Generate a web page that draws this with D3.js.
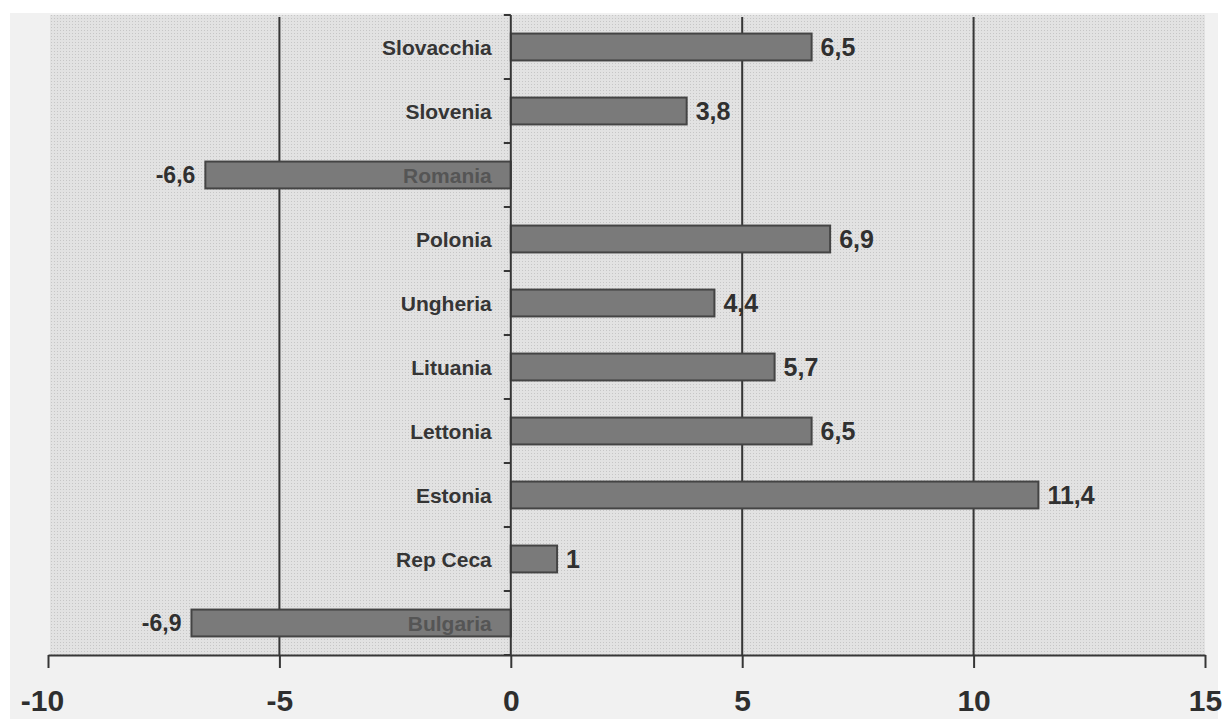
<!DOCTYPE html>
<html>
<head>
<meta charset="utf-8">
<script src="https://cdn.jsdelivr.net/npm/d3@7"></script>
<style>
  body { margin: 0; background: #fff; }
  text { font-family: "Liberation Sans", Arial, sans-serif; font-weight: bold; }
</style>
</head>
<body>
<div id="chart"></div>
<script>
// data (top to bottom)
var countries = ["Slovacchia", "Slovenia", "Romania", "Polonia", "Ungheria",
                 "Lituania", "Lettonia", "Estonia", "Rep Ceca", "Bulgaria"];
var values = [6.5, 3.8, -6.6, 6.9, 4.4, 5.7, 6.5, 11.4, 1, -6.9];
var xTicks = [-10, -5, 0, 5, 10, 15];

var svgWidth = 1228;
var svgHeight = 719;

var margin = { top: 15, right: 23, bottom: 64, left: 48 };
var width = svgWidth - margin.left - margin.right;
var height = svgHeight - margin.top - margin.bottom;

var svg = d3.select("#chart")
  .append("svg")
  .attr("width", svgWidth)
  .attr("height", svgHeight);

// dotted screen texture of the scanned plot area
var defs = svg.append("defs");
var pat = defs.append("pattern")
  .attr("id", "dots")
  .attr("width", 3)
  .attr("height", 3)
  .attr("patternUnits", "userSpaceOnUse");
pat.append("rect").attr("width", 3).attr("height", 3).attr("fill", "#e2e2e2");
pat.append("rect").attr("width", 1).attr("height", 1).attr("fill", "#c6c6c6");

// outer light frame
svg.append("rect")
  .attr("x", 10).attr("y", 13)
  .attr("width", 1208).attr("height", svgHeight - 13)
  .attr("fill", "#f1f1f1");

var chartGroup = svg.append("g")
  .attr("transform", `translate(${margin.left}, ${margin.top})`);

var data = countries.map(function(c, i) {
  return { country: c, value: values[i] };
});

// scales
var xLinearScale = d3.scaleLinear()
  .domain([-10, 15])
  .range([0, width]);

var yBandScale = d3.scaleBand()
  .domain(countries)
  .range([0, height])
  .paddingInner(0.58)
  .paddingOuter(0.29);

// plot background
chartGroup.append("rect")
  .attr("x", 2)
  .attr("y", 0)
  .attr("width", width - 2)
  .attr("height", height)
  .attr("fill", "url(#dots)");

// vertical gridlines
chartGroup.selectAll("line.grid")
  .data(xTicks.filter(d => d !== 0 && d !== -10 && d !== 15))
  .enter()
  .append("line")
  .attr("class", "grid")
  .attr("x1", d => xLinearScale(d))
  .attr("x2", d => xLinearScale(d))
  .attr("y1", 2)
  .attr("y2", height)
  .attr("stroke", "#363636")
  .attr("stroke-width", 2);

// bottom axis
var bottomAxis = d3.axisBottom(xLinearScale)
  .tickValues(xTicks)
  .tickSize(13)
  .tickSizeOuter(0)
  .tickPadding(22)
  .tickFormat(d => String(d));

var xAxisG = chartGroup.append("g")
  .attr("transform", `translate(0, ${height})`)
  .call(bottomAxis);
xAxisG.select(".domain").attr("stroke", "#363636").attr("stroke-width", 2);
xAxisG.selectAll(".tick line").attr("stroke", "#363636").attr("stroke-width", 2);
xAxisG.selectAll(".tick text")
  .attr("fill", "#2e2e2e")
  .style("font-size", "30px")
  .style("font-weight", "bold")
  .style("font-family", "'Liberation Sans', Arial, sans-serif");
xAxisG.selectAll(".tick").filter(d => d === -10)
  .select("text").attr("dx", -6);

// bars
chartGroup.selectAll("rect.bar")
  .data(data)
  .enter()
  .append("rect")
  .attr("class", "bar")
  .attr("x", d => xLinearScale(Math.min(0, d.value)))
  .attr("y", d => yBandScale(d.country))
  .attr("width", d => Math.abs(xLinearScale(d.value) - xLinearScale(0)))
  .attr("height", yBandScale.bandwidth())
  .attr("fill", "#7a7a7a")
  .attr("stroke", "#444444")
  .attr("stroke-width", 2);

// zero axis with category ticks
var zeroX = xLinearScale(0);
chartGroup.append("line")
  .attr("x1", zeroX).attr("x2", zeroX)
  .attr("y1", 0).attr("y2", height)
  .attr("stroke", "#363636")
  .attr("stroke-width", 2);

var step = yBandScale.step();
var boundaries = d3.range(countries.length + 1).map(i => i * step);
chartGroup.selectAll("line.ytick")
  .data(boundaries)
  .enter()
  .append("line")
  .attr("class", "ytick")
  .attr("x1", zeroX - 7)
  .attr("x2", zeroX)
  .attr("y1", d => d)
  .attr("y2", d => d)
  .attr("stroke", "#363636")
  .attr("stroke-width", 2);

// category labels
chartGroup.selectAll("text.cat")
  .data(data)
  .enter()
  .append("text")
  .attr("class", "cat")
  .attr("x", zeroX - 19)
  .attr("y", d => yBandScale(d.country) + yBandScale.bandwidth() / 2)
  .attr("dy", "0.36em")
  .attr("text-anchor", "end")
  .style("font-size", "21px")
  .attr("fill", d => d.value < 0 ? "#555555" : "#353535")
  .text(d => d.country);

// value labels, Italian decimal comma
var fmt = d3.formatLocale({ decimal: ",", thousands: ".", grouping: [3], currency: ["", "€"], minus: "-" })
  .format("~g");
chartGroup.selectAll("text.val")
  .data(data)
  .enter()
  .append("text")
  .attr("class", "val")
  .attr("x", d => d.value < 0 ? xLinearScale(d.value) - 10 : xLinearScale(d.value) + 9)
  .attr("y", d => yBandScale(d.country) + yBandScale.bandwidth() / 2)
  .attr("dy", "0.36em")
  .attr("text-anchor", d => d.value < 0 ? "end" : "start")
  .style("font-size", d => d.value < 0 ? "23px" : "25px")
  .attr("fill", "#303030")
  .text(d => fmt(d.value));
</script>
</body>
</html>
